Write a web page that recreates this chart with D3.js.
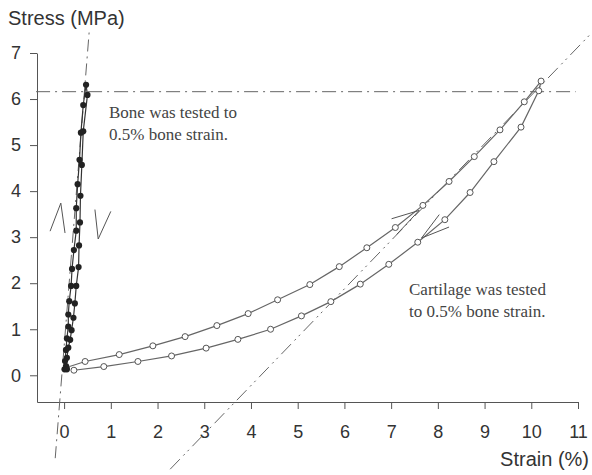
<!DOCTYPE html>
<html>
<head>
<meta charset="utf-8">
<script src="https://cdn.jsdelivr.net/npm/d3@7.9.0/dist/d3.min.js"></script>
<style>
  body { margin: 0; background: #fff; }
  svg { display: block; }
  .tick text { font-family: 'Liberation Sans', Arial, sans-serif; font-size: 18px; fill: #333; }
  .axis path, .axis line { stroke: #555; stroke-width: 1; }
  .axis-title { font-family: 'Liberation Sans', Arial, sans-serif; font-size: 20px; fill: #333; }
  .note { font-family: 'Liberation Serif', 'Times New Roman', serif; font-size: 17px; fill: #444; }
</style>
</head>
<body>
<div id="chart"></div>
<script>
// strain (%), stress (MPa)
const boneLoading = [
  [0.01, 0.13], [0.02, 0.31], [0.04, 0.55], [0.06, 0.80], [0.09, 1.06], [0.09, 1.32],
  [0.11, 1.61], [0.15, 1.94], [0.17, 2.31], [0.21, 2.72], [0.26, 3.14], [0.26, 3.63],
  [0.29, 4.15], [0.33, 4.68], [0.36, 5.27], [0.41, 5.87], [0.47, 6.31]
];
const boneUnloading = [
  [0.50, 6.09], [0.41, 5.30], [0.38, 4.57], [0.35, 3.90], [0.34, 3.32], [0.32, 2.82],
  [0.31, 2.35], [0.26, 1.94], [0.23, 1.56], [0.20, 1.25], [0.16, 0.98], [0.13, 0.77],
  [0.09, 0.60], [0.06, 0.38], [0.04, 0.20], [0.06, 0.13]
];
const cartLoading = [
  [0.05, 0.17], [0.45, 0.30], [1.18, 0.45], [1.90, 0.64], [2.59, 0.84], [3.27, 1.08],
  [3.94, 1.34], [4.57, 1.64], [5.26, 1.97], [5.89, 2.36], [6.48, 2.77], [7.09, 3.21],
  [7.68, 3.69], [8.24, 4.21], [8.78, 4.75], [9.33, 5.33], [9.85, 5.94], [10.21, 6.39]
];
const cartUnloading = [
  [10.16, 6.18], [9.78, 5.39], [9.20, 4.64], [8.69, 3.97], [8.15, 3.38], [7.57, 2.89],
  [6.95, 2.41], [6.34, 1.98], [5.71, 1.60], [5.08, 1.29], [4.42, 1.00], [3.72, 0.78],
  [3.04, 0.59], [2.30, 0.42], [1.58, 0.30], [0.85, 0.19], [0.21, 0.11]
];

// reference lines: [[x0, y0], [x1, y1]] and dash pattern
const refLines = [
  { pts: [[-0.6, 6.16], [10.95, 6.16]], dash: '14,5,2,5' },     // 6.16 MPa level
  { pts: [[-0.19, -1.8], [0.54, 7.5]], dash: '12,5,2,5' },      // bone slope
  { pts: [[2.27, -2.04], [11.4, 7.55]], dash: '14,5,2,4,2,5' }  // cartilage slope
];

// arrowheads: [tailA, apex, tailB]
const arrows = [
  [[-0.30, 3.13], [-0.07, 3.74], [0.02, 3.09]],
  [[0.66, 3.60], [0.73, 2.96], [1.00, 3.56]],
  [[7.01, 3.40], [7.60, 3.58], [7.12, 3.06]],
  [[8.03, 3.49], [7.65, 2.98], [8.24, 3.22]]
];

const xTicks = [0, 1, 2, 3, 4, 5, 6, 7, 8, 9, 10, 11];
const yTicks = [0, 1, 2, 3, 4, 5, 6, 7];

const width = 592;
const height = 475;

const svg = d3.select('#chart')
  .append('svg')
  .attr('width', width)
  .attr('height', height);

const x = d3.scaleLinear().domain([-0.58, 11]).range([37, 578]);
const y = d3.scaleLinear().domain([-0.58, 7]).range([402, 53]);

svg.append('g')
  .attr('class', 'axis')
  .attr('transform', `translate(${x(-0.58)},0)`)
  .call(d3.axisLeft(y).tickValues(yTicks).tickSize(7).tickSizeOuter(0).tickPadding(9));

svg.append('g')
  .attr('class', 'axis')
  .attr('transform', `translate(0,${y(-0.58)})`)
  .call(d3.axisBottom(x).tickValues(xTicks).tickSize(7).tickSizeOuter(0).tickPadding(16));

svg.selectAll('.axis .domain').attr('stroke', '#555');

svg.append('text')
  .attr('class', 'axis-title')
  .attr('x', 8)
  .attr('y', 25)
  .text('Stress (MPa)');

svg.append('text')
  .attr('class', 'axis-title')
  .attr('x', 589)
  .attr('y', 466)
  .attr('text-anchor', 'end')
  .text('Strain (%)');

const line = d3.line().x((d) => x(d[0])).y((d) => y(d[1]));

svg.append('g')
  .selectAll('path')
  .data(refLines)
  .join('path')
  .attr('d', (d) => line(d.pts))
  .attr('fill', 'none')
  .attr('stroke', '#666')
  .attr('stroke-width', 1)
  .attr('stroke-dasharray', (d) => d.dash);

// cartilage loop
svg.append('path')
  .attr('d', line(cartLoading.concat(cartUnloading)))
  .attr('fill', 'none')
  .attr('stroke', '#666')
  .attr('stroke-width', 1.2);

// bone loop
svg.append('path')
  .attr('d', line(boneLoading.concat(boneUnloading)))
  .attr('fill', 'none')
  .attr('stroke', '#333')
  .attr('stroke-width', 1.2);

svg.append('g')
  .selectAll('path')
  .data(arrows)
  .join('path')
  .attr('d', (d) => line(d))
  .attr('fill', 'none')
  .attr('stroke', '#555')
  .attr('stroke-width', 1);

svg.append('g')
  .selectAll('circle')
  .data(cartLoading.concat(cartUnloading))
  .join('circle')
  .attr('cx', (d) => x(d[0]))
  .attr('cy', (d) => y(d[1]))
  .attr('r', 3)
  .attr('fill', '#fff')
  .attr('stroke', '#555')
  .attr('stroke-width', 1);

svg.append('g')
  .selectAll('circle')
  .data(boneLoading.concat(boneUnloading))
  .join('circle')
  .attr('cx', (d) => x(d[0]))
  .attr('cy', (d) => y(d[1]))
  .attr('r', 3.1)
  .attr('fill', '#222');

const notes = [
  { x: 109, y: 118, lines: ['Bone was tested to', '0.5% bone strain.'] },
  { x: 409, y: 295, lines: ['Cartilage was tested', 'to 0.5% bone strain.'] }
];

notes.forEach((n) => {
  const t = svg.append('text').attr('class', 'note');
  n.lines.forEach((s, i) => {
    t.append('tspan').attr('x', n.x).attr('y', n.y + i * 22).text(s);
  });
});
</script>
</body>
</html>
